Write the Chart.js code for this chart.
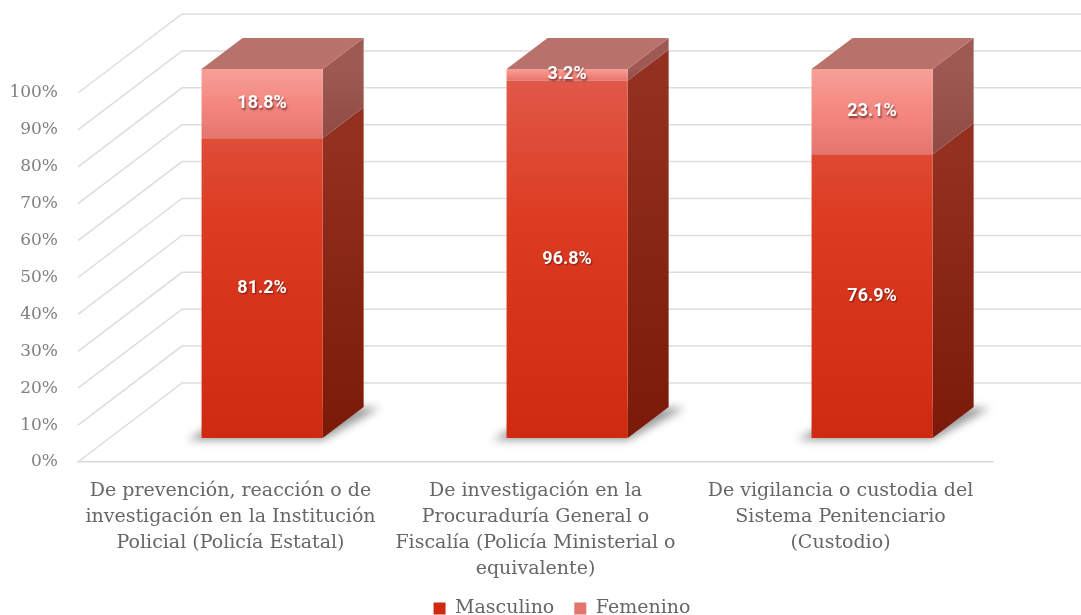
<!DOCTYPE html>
<html>
<head>
<meta charset="utf-8">
<script src="https://cdn.jsdelivr.net/npm/chart.js@4.4.1/dist/chart.umd.min.js"></script>
<style>
  html, body { margin: 0; padding: 0; background: #fff; }
</style>
</head>
<body>
<canvas id="chart" width="1081" height="615"></canvas>
<script>
const categories = [
  ["De prevención, reacción o de", "investigación en la Institución", "Policial (Policía Estatal)"],
  ["De investigación en la", "Procuraduría General o", "Fiscalía (Policía Ministerial o", "equivalente)"],
  ["De vigilancia o custodia del", "Sistema Penitenciario", "(Custodio)"]
];
const masculino = [81.2, 96.8, 76.9];
const femenino = [18.8, 3.2, 23.1];
const yTicks = [0, 10, 20, 30, 40, 50, 60, 70, 80, 90, 100];

// 3D look: back wall offset, bar offset into the floor, bar depth
const WALL_DX = 104, WALL_DY = -79;
const SHIFT_X = 31.6, SHIFT_Y = -24;
const DEPTH_X = 41, DEPTH_Y = -31;

const serif = "'DejaVu Serif', serif";

function frontColor(context, which) {
  const chart = context.chart;
  if (context.type !== "data" || !chart.chartArea) {
    return which === 0 ? "#d8321a" : "#f4877f";
  }
  const y = chart.scales.y;
  const i = context.dataIndex;
  const g = (which === 0)
    ? chart.ctx.createLinearGradient(0, y.getPixelForValue(100), 0, y.getPixelForValue(0))
    : chart.ctx.createLinearGradient(0, y.getPixelForValue(masculino[i] + femenino[i]), 0, y.getPixelForValue(masculino[i]));
  if (which === 0) {
    g.addColorStop(0, "#e15b4c");
    g.addColorStop(0.4, "#dc3c22");
    g.addColorStop(1, "#cf2a0f");
  } else {
    g.addColorStop(0, "#f6a098");
    g.addColorStop(0.5, "#f4877f");
    g.addColorStop(1, "#e2766f");
  }
  return g;
}

const depthPlugin = {
  id: "depth",
  beforeDatasetsDraw(chart) {
    const { ctx, chartArea, scales: { y } } = chart;

    // side wall diagonals + back wall gridlines
    ctx.save();
    ctx.strokeStyle = "#dddddd";
    ctx.lineWidth = 1.5;
    y.ticks.forEach(t => {
      const py = y.getPixelForValue(t.value);
      ctx.beginPath();
      ctx.moveTo(chartArea.left, py);
      ctx.lineTo(chartArea.left + WALL_DX, py + WALL_DY);
      ctx.lineTo(chart.width, py + WALL_DY);
      ctx.stroke();
    });
    ctx.restore();

    // bars sit back from the front plane; restored in afterDatasetsDraw
    ctx.save();
    ctx.translate(SHIFT_X, SHIFT_Y);

    const mBars = chart.getDatasetMeta(0).data;
    const fBars = chart.getDatasetMeta(1).data;

    mBars.forEach((bar, i) => {
      const L = bar.x - bar.width / 2;
      const R = bar.x + bar.width / 2;
      const B = bar.base;

      // floor shadow
      ctx.save();
      ctx.filter = "blur(4px)";
      ctx.fillStyle = "rgba(0,0,0,0.4)";
      ctx.beginPath();
      ctx.moveTo(L - 14, B + 2);
      ctx.lineTo(R, B + 2);
      ctx.lineTo(R + DEPTH_X + 16, B + DEPTH_Y + 1);
      ctx.lineTo(L + DEPTH_X, B + DEPTH_Y);
      ctx.closePath();
      ctx.fill();
      ctx.restore();

      // side faces
      [bar, fBars[i]].forEach((seg, k) => {
        const T = seg.y, Bs = seg.base;
        const g = ctx.createLinearGradient(0, T, 0, Bs);
        if (k === 0) {
          g.addColorStop(0, "#93301f");
          g.addColorStop(1, "#7b1a09");
        } else {
          g.addColorStop(0, "#9d5952");
          g.addColorStop(1, "#8f4a43");
        }
        ctx.fillStyle = g;
        ctx.beginPath();
        ctx.moveTo(R, T);
        ctx.lineTo(R + DEPTH_X, T + DEPTH_Y);
        ctx.lineTo(R + DEPTH_X, Bs + DEPTH_Y);
        ctx.lineTo(R, Bs);
        ctx.closePath();
        ctx.fill();
      });

      // top face
      const T = fBars[i].y;
      ctx.fillStyle = "#b8726b";
      ctx.beginPath();
      ctx.moveTo(L, T);
      ctx.lineTo(L + DEPTH_X, T + DEPTH_Y);
      ctx.lineTo(R + DEPTH_X, T + DEPTH_Y);
      ctx.lineTo(R, T);
      ctx.closePath();
      ctx.fill();
    });
  },
  afterDatasetsDraw(chart) {
    const { ctx } = chart;
    ctx.font = "bold 18px Roboto, sans-serif";
    ctx.textAlign = "center";
    ctx.textBaseline = "middle";
    ctx.fillStyle = "#ffffff";
    ctx.shadowColor = "rgba(60,0,0,0.6)";
    ctx.shadowOffsetX = 1;
    ctx.shadowOffsetY = 1.5;
    ctx.shadowBlur = 2;
    chart.data.datasets.forEach((ds, d) => {
      chart.getDatasetMeta(d).data.forEach((bar, i) => {
        ctx.fillText(ds.data[i].toFixed(1) + "%", bar.x, (bar.y + bar.base) / 2);
      });
    });
    ctx.restore();
  }
};

new Chart(document.getElementById("chart"), {
  type: "bar",
  data: {
    labels: categories,
    datasets: [
      {
        label: "Masculino",
        data: masculino,
        backgroundColor: c => frontColor(c, 0),
        barPercentage: 0.397,
        categoryPercentage: 1
      },
      {
        label: "Femenino",
        data: femenino,
        backgroundColor: c => frontColor(c, 1),
        barPercentage: 0.397,
        categoryPercentage: 1
      }
    ]
  },
  options: {
    responsive: false,
    animation: false,
    devicePixelRatio: 1,
    layout: { padding: { top: 93, left: 8, right: -35, bottom: -13 } },
    plugins: {
      legend: {
        position: "bottom",
        labels: {
          color: "#666666",
          font: { family: serif, size: 19 },
          boxWidth: 12,
          boxHeight: 12,
          padding: 20
        }
      },
      tooltip: { enabled: false }
    },
    scales: {
      x: {
        stacked: true,
        grid: { display: false, drawTicks: false },
        border: { display: true, color: "#d9d9d9", width: 1.5 },
        ticks: {
          color: "#666666",
          font: { family: serif, size: 19, lineHeight: 1.37 },
          padding: 16,
          maxRotation: 0,
          autoSkip: false
        },
        afterFit: s => { s.height = 117; }
      },
      y: {
        stacked: true,
        min: 0,
        max: 100,
        grid: { display: false, drawTicks: false },
        border: { display: false },
        afterBuildTicks: s => { s.ticks = yTicks.map(v => ({ value: v })); },
        ticks: {
          color: "#808080",
          font: { family: serif, size: 17 },
          padding: 20,
          callback: v => v + "%"
        },
        afterFit: s => { s.width = 70; }
      },
      // empty axis on the right, only reserves the space beside the plot
      y2: {
        position: "right",
        min: 0,
        max: 100,
        grid: { display: false, drawTicks: false },
        border: { display: false },
        ticks: { display: false },
        afterFit: s => { s.width = 123; }
      }
    }
  },
  plugins: [depthPlugin]
});
</script>
</body>
</html>
